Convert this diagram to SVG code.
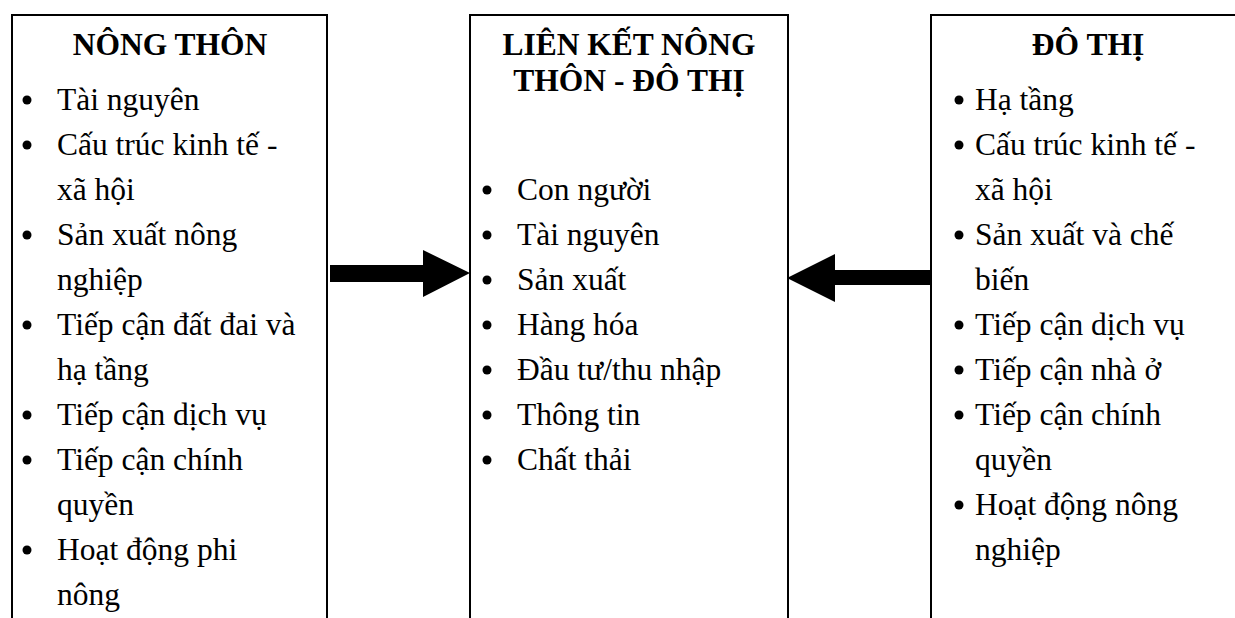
<svg xmlns="http://www.w3.org/2000/svg" width="1235" height="618" viewBox="0 0 1235 618">
<style>
.box{fill:#fff;stroke:#000;stroke-width:2}
.t{font-family:"Liberation Serif","Times New Roman",serif;font-size:31.5px;fill:#000}
.h{font-weight:bold;text-anchor:middle}
.b{fill:#000}
.arr{fill:#000}
</style>
<rect width="1235" height="618" fill="#fff"/>
<g id="nong-thon">
<path class="box" d="M12,620 V15 H327 V620"/>
<text class="t h" x="170" y="55">NÔNG THÔN</text>
<g class="b">
<circle cx="27" cy="100" r="4.5"/><circle cx="27" cy="145" r="4.5"/><circle cx="27" cy="235" r="4.5"/><circle cx="27" cy="325" r="4.5"/><circle cx="27" cy="415" r="4.5"/><circle cx="27" cy="460" r="4.5"/><circle cx="27" cy="550" r="4.5"/>
</g>
<text class="t" x="57" y="110">Tài nguyên</text>
<text class="t" x="57" y="155">Cấu trúc kinh tế -</text>
<text class="t" x="57" y="200">xã hội</text>
<text class="t" x="57" y="245">Sản xuất nông</text>
<text class="t" x="57" y="290">nghiệp</text>
<text class="t" x="57" y="335">Tiếp cận đất đai và</text>
<text class="t" x="57" y="380">hạ tầng</text>
<text class="t" x="57" y="425">Tiếp cận dịch vụ</text>
<text class="t" x="57" y="470">Tiếp cận chính</text>
<text class="t" x="57" y="515">quyền</text>
<text class="t" x="57" y="560">Hoạt động phi</text>
<text class="t" x="57" y="605">nông</text>
</g>
<g id="lien-ket">
<path class="box" d="M470,620 V15 H788 V620"/>
<text class="t h" x="629" y="55">LIÊN KẾT NÔNG</text>
<text class="t h" x="629" y="91">THÔN - ĐÔ THỊ</text>
<g class="b">
<circle cx="487" cy="190" r="4.5"/><circle cx="487" cy="235" r="4.5"/><circle cx="487" cy="280" r="4.5"/><circle cx="487" cy="325" r="4.5"/><circle cx="487" cy="370" r="4.5"/><circle cx="487" cy="415" r="4.5"/><circle cx="487" cy="460" r="4.5"/>
</g>
<text class="t" x="517" y="200">Con người</text>
<text class="t" x="517" y="245">Tài nguyên</text>
<text class="t" x="517" y="290">Sản xuất</text>
<text class="t" x="517" y="335">Hàng hóa</text>
<text class="t" x="517" y="380">Đầu tư/thu nhập</text>
<text class="t" x="517" y="425">Thông tin</text>
<text class="t" x="517" y="470">Chất thải</text>
</g>
<g id="do-thi">
<path class="box" d="M931,620 V15 H1240"/>
<text class="t h" x="1088" y="55">ĐÔ THỊ</text>
<g class="b">
<circle cx="959" cy="100" r="4.5"/><circle cx="959" cy="145" r="4.5"/><circle cx="959" cy="235" r="4.5"/><circle cx="959" cy="325" r="4.5"/><circle cx="959" cy="370" r="4.5"/><circle cx="959" cy="415" r="4.5"/><circle cx="959" cy="505" r="4.5"/>
</g>
<text class="t" x="975" y="110">Hạ tầng</text>
<text class="t" x="975" y="155">Cấu trúc kinh tế -</text>
<text class="t" x="975" y="200">xã hội</text>
<text class="t" x="975" y="245">Sản xuất và chế</text>
<text class="t" x="975" y="290">biến</text>
<text class="t" x="975" y="335">Tiếp cận dịch vụ</text>
<text class="t" x="975" y="380">Tiếp cận nhà ở</text>
<text class="t" x="975" y="425">Tiếp cận chính</text>
<text class="t" x="975" y="470">quyền</text>
<text class="t" x="975" y="515">Hoạt động nông</text>
<text class="t" x="975" y="560">nghiệp</text>
</g>
<g id="connectors">
<polygon class="arr" points="330,265 423,265 423,250 470,273 423,297 423,282 330,282"/>
<polygon class="arr" points="930,270 835,270 835,254 787,278 835,302 835,285 930,285"/>
</g>
</svg>
